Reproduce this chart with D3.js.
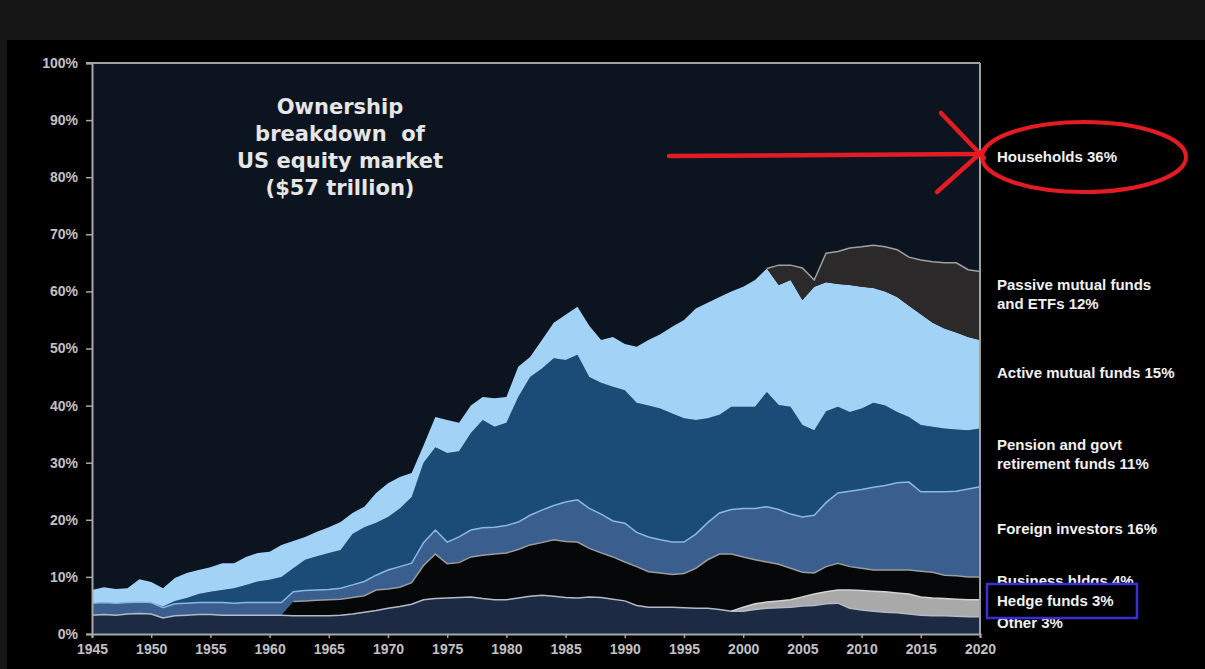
<!DOCTYPE html>
<html><head><meta charset="utf-8">
<script src="https://cdn.jsdelivr.net/npm/d3@7"></script>
<style>body{margin:0;background:#000;} svg{display:block;} .ttl{white-space:pre;}</style>
</head><body>
<svg id="c" width="1205" height="669"></svg>
<script>
// ---- DATA (share of US equity market, %) ----
const years = d3.range(1945, 2021);
const other = [3.3,3.4,3.3,3.5,3.6,3.5,2.8,3.2,3.3,3.4,
  3.4,3.3,3.3,3.3,3.3,3.3,3.3,3.2,3.2,3.2,
  3.2,3.3,3.5,3.8,4.1,4.5,4.8,5.2,6.0,6.2,
  6.3,6.4,6.5,6.2,6.0,6.0,6.3,6.6,6.8,6.6,
  6.4,6.3,6.5,6.4,6.1,5.8,5.0,4.7,4.7,4.7,
  4.6,4.5,4.5,4.3,4.0,4.0,4.3,4.5,4.6,4.7,
  4.9,5.0,5.3,5.4,4.5,4.2,4.0,3.8,3.7,3.5,
  3.3,3.2,3.2,3.1,3.0,3.0];
const hedge = [0,0,0,0,0,0,0,0,0,0,
  0,0,0,0,0,0,0,0,0,0,
  0,0,0,0,0,0,0,0,0,0,
  0,0,0,0,0,0,0,0,0,0,
  0,0,0,0,0,0,0,0,0,0,
  0,0,0,0,0,0.7,1.0,1.1,1.2,1.3,
  1.6,2.0,2.1,2.3,3.2,3.4,3.5,3.6,3.5,3.5,
  3.2,3.1,3.0,3.0,3.0,3.0];
const business = [0,0,0,0,0,0,0,0,0,0,
  0,0,0,0,0,0,0,2.5,2.6,2.7,
  2.8,2.8,2.9,2.9,3.6,3.4,3.4,3.8,6.0,7.8,
  6.0,6.1,7.0,7.6,8.0,8.2,8.5,9.0,9.2,9.9,
  9.8,9.8,8.5,7.8,7.4,6.8,6.8,6.2,6.0,5.7,
  6.0,7.0,8.5,9.7,10.0,8.8,7.7,7.0,6.4,5.5,
  4.3,3.7,4.4,4.7,4.1,3.9,3.7,3.8,4.0,4.2,
  4.5,4.5,4.1,4.1,4.0,4.0];
const foreign = [2.1,2.1,2.1,2.0,2.0,2.0,1.8,2.1,2.1,2.1,
  2.1,2.2,2.1,2.2,2.2,2.2,2.2,1.7,1.8,1.8,
  1.8,1.9,2.2,2.5,2.6,3.3,3.6,3.4,4.0,4.2,
  3.8,4.5,4.7,4.8,4.7,4.8,4.8,5.2,5.7,6.0,
  6.9,7.4,7.0,6.8,6.3,6.8,6.0,6.1,5.8,5.7,
  5.5,6.0,6.5,7.2,7.8,8.5,9.0,9.7,9.6,9.5,
  9.7,10.1,11.2,12.3,13.2,13.8,14.5,14.8,15.3,15.4,
  13.9,14.1,14.6,14.8,15.4,15.8];
const pension = [0,0,0,0,0,0,0.2,0.5,0.9,1.5,
  1.9,2.2,2.6,3.1,3.7,4.0,4.5,4.1,5.4,5.9,
  6.4,6.7,8.9,9.5,9.2,9.3,10.2,11.6,14.0,14.5,
  15.6,15.0,17.0,18.9,17.6,18.0,21.9,24.2,24.8,25.8,
  24.9,25.4,23.0,23.0,23.5,23.3,22.7,23.0,23.0,22.5,
  21.7,20.0,18.3,17.2,18.0,17.8,17.8,20.1,18.3,18.8,
  16.1,14.9,16.0,15.1,13.9,14.2,14.8,14.0,12.4,11.4,
  11.7,11.4,11.1,10.8,10.3,10.2];
const active = [2.3,2.7,2.5,2.5,4.0,3.6,3.2,4.0,4.4,4.2,
  4.3,4.7,4.4,4.9,5.0,4.9,5.6,4.8,4.0,4.3,
  4.5,4.9,3.7,3.6,5.2,5.9,5.5,4.2,3.0,5.3,
  5.8,5.0,4.8,4.0,5.0,4.5,5.3,3.5,5.0,6.2,
  7.9,8.4,9.0,7.5,8.7,8.1,9.8,11.5,13.0,15.2,
  17.2,19.5,20.2,20.6,20.2,21.0,22.2,21.6,21.0,22.2,
  21.9,25.1,22.6,21.5,22.2,21.3,20.1,20.0,20.1,19.5,
  19.4,18.2,17.5,17.0,16.3,15.5];
const passive = [0,0,0,0,0,0,0,0,0,0,
  0,0,0,0,0,0,0,0,0,0,
  0,0,0,0,0,0,0,0,0,0,
  0,0,0,0,0,0,0,0,0,0,
  0,0,0,0,0,0,0,0,0,0,
  0,0,0,0,0,0,0,0,3.5,2.6,
  5.6,1.2,5.1,5.7,6.5,7.0,7.5,7.8,8.3,8.5,
  9.5,10.7,11.5,12.2,11.8,12.0];
const yTicks = [0,10,20,30,40,50,60,70,80,90,100];
const xTicks = [1945,1950,1955,1960,1965,1970,1975,1980,1985,1990,1995,2000,2005,2010,2015,2020];
const titleLines = ["Ownership","breakdown  of","US equity market","($57 trillion)"];
const labels = [
  {lines:["Households 36%"], y:162},
  {lines:["Passive mutual funds","and ETFs 12%"], y:290},
  {lines:["Active mutual funds 15%"], y:378},
  {lines:["Pension and govt","retirement funds 11%"], y:450},
  {lines:["Foreign investors 16%"], y:534},
  {lines:["Business hldgs 4%"], y:586},
  {lines:["Other 3%"], y:628}
];

// ---- CHART ----
const svg = d3.select("#c");
const W = 1205, H = 669;
const FONT = "Liberation Sans, Arial, sans-serif";
const x = d3.scaleLinear().domain([1945, 2020]).range([92, 980]);
const y = d3.scaleLinear().domain([0, 100]).range([634, 63]);

svg.append("rect").attr("width", W).attr("height", H).attr("fill", "#000");
svg.append("rect").attr("width", W).attr("height", 40).attr("fill", "#161616");
svg.append("rect").attr("width", 7).attr("height", H).attr("fill", "#161616");

// households background
svg.append("rect").attr("x", x(1945)).attr("y", y(100))
  .attr("width", x(2020) - x(1945)).attr("height", y(0) - y(100)).attr("fill", "#0c1420");

const keys = ["other","hedge","business","foreign","pension","active","passive"];
const src = {other, hedge, business, foreign, pension, active, passive};
const rows = years.map((yr, i) => {
  const r = {year: yr};
  keys.forEach(k => r[k] = src[k][i]);
  return r;
});
const stacked = d3.stack().keys(keys)(rows);
const colors = {other:"#1d2a44", hedge:"#a9a9a9", business:"#060708", foreign:"#3a5e8e",
  pension:"#1b4c77", active:"#a3d2f7", passive:"#2b2929"};
const area = d3.area().x(d => x(d.data.year)).y0(d => y(d[0])).y1(d => y(d[1]));

// households area (above stack)
const topLayer = stacked[stacked.length - 1];
svg.append("path").datum(topLayer)
  .attr("fill", "#0c1420")
  .attr("d", d3.area().x(d => x(d.data.year)).y0(d => y(d[1])).y1(() => y(100)));

stacked.forEach(s => {
  svg.append("path").datum(s).attr("fill", colors[s.key]).attr("d", area);
});

const lineStyles = {other:"#b4bac6", hedge:"#d4d4d4", business:"#9c9c9c", foreign:"#8ab8e4", passive:"#a0a0a0"};
stacked.forEach(s => {
  if (!lineStyles[s.key]) return;
  const ln = d3.line().x(d => x(d.data.year)).y(d => y(d[1]));
  if (s.key === "passive") ln.defined(d => d.data.year >= 2002);
  if (s.key === "hedge") ln.defined(d => d.data.year >= 1999);
  if (s.key === "business") ln.defined(d => d.data.year >= 1962);
  svg.append("path").datum(s).attr("fill", "none").attr("stroke", lineStyles[s.key])
    .attr("stroke-width", 1.5).attr("d", ln);
});

// frame
svg.append("line").attr("x1", 86).attr("x2", x(2020)).attr("y1", y(100)).attr("y2", y(100))
  .attr("stroke", "#a0a0a0").attr("stroke-width", 2);
svg.append("line").attr("x1", x(2020)).attr("x2", x(2020)).attr("y1", y(100)).attr("y2", y(0))
  .attr("stroke", "#a0a0a0").attr("stroke-width", 2);

// axes
const yAxis = svg.append("g").attr("transform", `translate(${x(1945)},0)`)
  .call(d3.axisLeft(y).tickValues(yTicks).tickFormat(d => d + "%").tickSize(6).tickPadding(8));
const xAxis = svg.append("g").attr("transform", `translate(0,${y(0)})`)
  .call(d3.axisBottom(x).tickValues(xTicks).tickFormat(d3.format("d")).tickSize(4).tickPadding(6));
[yAxis, xAxis].forEach(g => {
  g.selectAll("path.domain").attr("stroke", "#a8a8a8").attr("stroke-width", 2);
  g.selectAll(".tick line").attr("stroke", "#a8a8a8").attr("stroke-width", 1.5);
  g.selectAll("text").attr("fill", "#c2c2c2").attr("font-family", FONT)
    .attr("font-weight", "bold").attr("font-size", 14);
});

// title
svg.append("g").selectAll("text").data(titleLines).join("text")
  .attr("class", "ttl")
  .attr("x", 340).attr("y", (d, i) => 114 + i * 27).attr("text-anchor", "middle")
  .attr("fill", "#e6e6e6").attr("font-family", "DejaVu Sans, Verdana, sans-serif")
  .attr("font-weight", "bold").attr("font-size", 21).text(d => d);

// right labels
const lab = svg.append("g").attr("font-family", FONT)
  .attr("font-weight", "bold").attr("font-size", 15).attr("fill", "#f0f0f0");
labels.forEach(l => {
  l.lines.forEach((t, i) => lab.append("text").attr("x", 997).attr("y", l.y + i * 19).text(t));
});

// blue highlight box
svg.append("rect").attr("x", 987).attr("y", 584).attr("width", 150).attr("height", 34)
  .attr("fill", "#000").attr("stroke", "#3b2fd4").attr("stroke-width", 2.5);
svg.append("text").attr("x", 997).attr("y", 606).attr("font-family", FONT)
  .attr("font-weight", "bold").attr("font-size", 15).attr("fill", "#f0f0f0").text("Hedge funds 3%");

// red annotation
const red = svg.append("g").attr("stroke", "#e31b23").attr("fill", "none")
  .attr("stroke-width", 4.5).attr("stroke-linecap", "round");
red.append("line").attr("x1", 669).attr("y1", 156).attr("x2", 976).attr("y2", 154);
red.append("line").attr("x1", 941).attr("y1", 113).attr("x2", 984).attr("y2", 158);
red.append("line").attr("x1", 937).attr("y1", 192).attr("x2", 985).attr("y2", 149);
red.append("ellipse").attr("cx", 1084).attr("cy", 157).attr("rx", 102).attr("ry", 35).attr("stroke-width", 4);
</script>
</body></html>
